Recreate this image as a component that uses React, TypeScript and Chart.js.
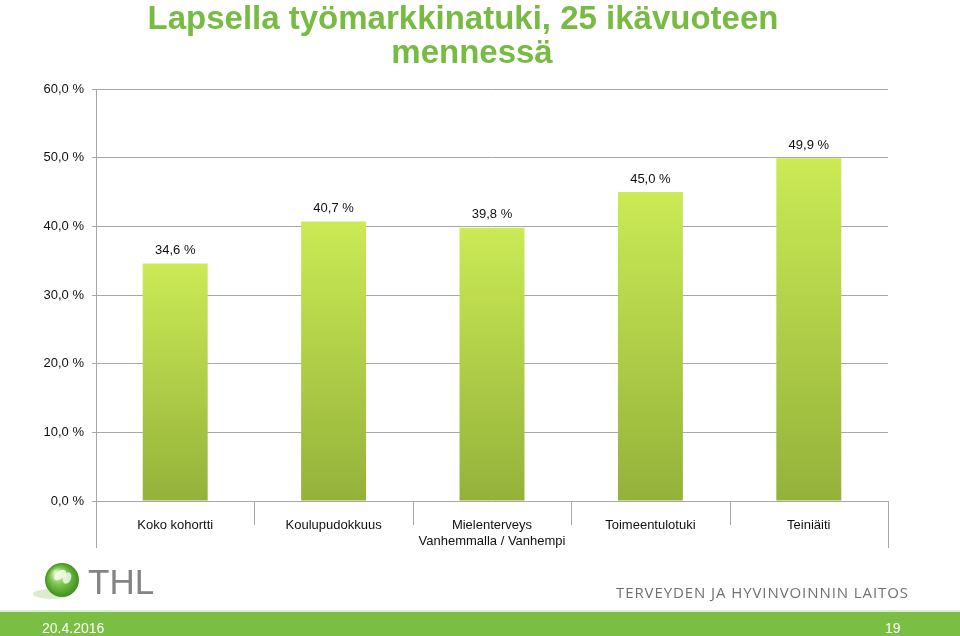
import React, { useEffect, useRef } from "react";
import { Chart, registerables } from "chart.js";

Chart.register(...registerables);

const categories = ["Koko kohortti", "Koulupudokkuus", "Mielenterveys", "Toimeentulotuki", "Teiniäiti"];
const values = [34.6, 40.7, 39.8, 45.0, 49.9];
const groupLabel = "Vanhemmalla / Vanhempi";
const groupFirst = 1;
const groupLast = 3;
const yMin = 0;
const yMax = 60;
const yStep = 10;
const titleLines = ["Lapsella työmarkkinatuki, 25 ikävuoteen", "mennessä"];
const footerDate = "20.4.2016";
const pageNumber = "19";
const orgName = "TERVEYDEN JA HYVINVOINNIN LAITOS";
const logoText = "THL";

const FONT = "'Liberation Sans', Arial, sans-serif";
const GREEN = "#78bb42";
const GRID = "#a8a8a8";

const fmt = (v: number) => v.toFixed(1).replace(".", ",") + " %";

const decor = {
  id: "decor",
  beforeDraw(chart: any) {
    const ctx = chart.ctx;
    ctx.save();
    ctx.fillStyle = "#ffffff";
    ctx.fillRect(0, 0, chart.width, chart.height);
    ctx.fillStyle = "#dcedcf";
    ctx.fillRect(0, 610, chart.width, 2);
    ctx.fillStyle = "#7abf43";
    ctx.fillRect(0, 612, chart.width, 24);
    ctx.restore();
  },
  afterDatasetsDraw(chart: any) {
    const ctx = chart.ctx;
    const meta = chart.getDatasetMeta(0);
    ctx.save();
    ctx.font = `13px ${FONT}`;
    ctx.fillStyle = "#111";
    ctx.textAlign = "center";
    ctx.textBaseline = "middle";
    meta.data.forEach((el: any, i: number) => {
      ctx.fillText(fmt(values[i]), el.x, el.y - 13);
    });
    ctx.restore();
  },
  afterDraw(chart: any) {
    const ctx = chart.ctx;
    const area = chart.chartArea;
    const xs = chart.scales.x;
    ctx.save();
    // title
    ctx.fillStyle = GREEN;
    ctx.font = `bold 33px ${FONT}`;
    ctx.textAlign = "center";
    ctx.textBaseline = "alphabetic";
    ctx.fillText(titleLines[0], 463, 29);
    ctx.fillText(titleLines[1], 472, 63);

    // category separators
    ctx.strokeStyle = GRID;
    ctx.lineWidth = 1;
    const n = categories.length;
    for (let i = 0; i <= n; i++) {
      let x: number;
      if (i === 0) x = area.left;
      else if (i === n) x = area.right;
      else x = (xs.getPixelForValue(i - 1) + xs.getPixelForValue(i)) / 2;
      const xx = Math.round(x) + 0.5;
      const bottom = i === 0 || i === n ? 548 : 525;
      ctx.beginPath();
      ctx.moveTo(xx, area.bottom);
      ctx.lineTo(xx, bottom);
      ctx.stroke();
    }
    // group label
    ctx.fillStyle = "#111";
    ctx.font = `13px ${FONT}`;
    ctx.textBaseline = "middle";
    const gx = (xs.getPixelForValue(groupFirst) + xs.getPixelForValue(groupLast)) / 2;
    ctx.fillText(groupLabel, gx, 541);

    // logo sphere shadow
    ctx.fillStyle = "rgba(150, 200, 110, 0.35)";
    ctx.beginPath();
    ctx.ellipse(52, 594, 19, 5, 0, 0, Math.PI * 2);
    ctx.fill();
    // sphere
    const cx = 62, cy = 580, r = 17;
    const rg = ctx.createRadialGradient(cx - 6, cy - 7, 2, cx, cy, r);
    rg.addColorStop(0, "#d9f0b8");
    rg.addColorStop(0.45, "#7cc54a");
    rg.addColorStop(1, "#3f8f22");
    ctx.fillStyle = rg;
    ctx.beginPath();
    ctx.arc(cx, cy, r, 0, Math.PI * 2);
    ctx.fill();
    ctx.fillStyle = "rgba(255,255,255,0.75)";
    ctx.beginPath();
    ctx.ellipse(cx - 2, cy - 5, 7, 4, -0.6, 0, Math.PI * 2);
    ctx.fill();
    ctx.beginPath();
    ctx.ellipse(cx + 5, cy - 2, 4, 6, 0.4, 0, Math.PI * 2);
    ctx.fill();

    // THL text
    ctx.fillStyle = "#848484";
    ctx.font = `35px ${FONT}`;
    ctx.textAlign = "left";
    ctx.textBaseline = "alphabetic";
    ctx.fillText(logoText, 88, 594);

    // organisation name
    ctx.fillStyle = "#707173";
    ctx.font = `15px 'Open Sans', 'Noto Sans', sans-serif`;
    const w = ctx.measureText(orgName).width;
    const target = 292;
    (ctx as any).letterSpacing = `${(target - w) / (orgName.length - 1)}px`;
    ctx.fillText(orgName, 616, 598);
    (ctx as any).letterSpacing = "0px";

    // footer texts
    ctx.fillStyle = "#ffffff";
    ctx.font = `14px ${FONT}`;
    ctx.fillText(footerDate, 42, 633);
    ctx.fillText(pageNumber, 885, 633);
    ctx.restore();
  },
};

export default function App() {
  const ref = useRef<HTMLCanvasElement | null>(null);
  useEffect(() => {
    if (!ref.current) return;
    const chart = new Chart(ref.current, {
      type: "bar",
      data: {
        labels: categories,
        datasets: [
          {
            data: values,
            backgroundColor: (c: any) => {
              const ch = c.chart;
              const ys = ch.scales && ch.scales.y;
              if (!ys || c.type !== "data") return "#b5d447";
              const top = ys.getPixelForValue(c.raw as number);
              const base = ys.getPixelForValue(0);
              if (!isFinite(top) || !isFinite(base) || top === base) return "#b5d447";
              const g = ch.ctx.createLinearGradient(0, top, 0, base);
              g.addColorStop(0, "#cbea55");
              g.addColorStop(1, "#94b23a");
              return g;
            },
            borderWidth: 0,
            barPercentage: 0.41,
            categoryPercentage: 1,
          },
        ],
      },
      options: {
        responsive: false,
        animation: false,
        layout: { padding: { left: 0, right: 72, top: 89, bottom: 95 } },
        plugins: {
          legend: { display: false },
          tooltip: { enabled: false },
          title: { display: false },
        },
        scales: {
          x: {
            grid: { display: false },
            border: { display: false },
            ticks: {
              font: { family: FONT, size: 13 },
              color: "#111",
              padding: 9,
              maxRotation: 0,
              autoSkip: false,
            },
            afterFit: (s: any) => {
              s.height = 40;
            },
          },
          y: {
            min: yMin,
            max: yMax,
            ticks: {
              stepSize: yStep,
              callback: (v: any) => fmt(Number(v)),
              font: { family: FONT, size: 13 },
              color: "#111",
              padding: 8,
            },
            grid: { color: GRID, tickLength: 4, lineWidth: 1 },
            border: { color: GRID, width: 1 },
            afterFit: (s: any) => {
              s.width = 96;
            },
          },
        },
      },
      plugins: [decor],
    });
    return () => chart.destroy();
  }, []);
  return (
    <div style={{ position: "absolute", left: 0, top: 0, width: 960, height: 636 }}>
      <canvas ref={ref} width={960} height={636} style={{ display: "block" }} />
    </div>
  );
}
